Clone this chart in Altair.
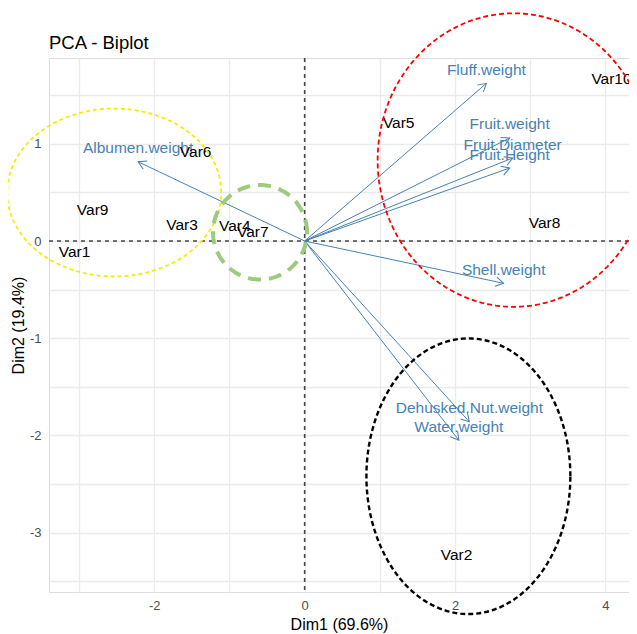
import numpy as np
import pandas as pd
import altair as alt

# ---- data ----
title_text = ["PCA - Biplot"]

ind_names = ["Var1", "Var2", "Var3", "Var4", "Var5", "Var6", "Var7", "Var8", "Var9", "Var10"]
ind_dim1 = [-3.06, 2.02, -1.63, -0.93, 1.25, -1.45, -0.69, 3.19, -2.82, 4.08]
ind_dim2 = [-0.11, -3.23, 0.165, 0.157, 1.21, 0.92, 0.09, 0.19, 0.32, 1.667]

var_names = ["Albumen.weight", "Fluff.weight", "Fruit.weight", "Fruit.Diameter",
             "Fruit.Height", "Shell.weight", "Dehusked.Nut.weight", "Water.weight"]
var_dim1 = [-2.216, 2.416, 2.726, 2.766, 2.726, 2.646, 2.19, 2.05]
var_dim2 = [0.816, 1.622, 1.06, 0.854, 0.751, -0.435, -1.86, -2.05]

# annotation ellipses: centre (dim1, dim2), radii (dim1, dim2)
ell_names = ["yellow", "green", "red", "black"]
ell_cx = [-2.533, -0.594, 2.78, 2.177]
ell_cy = [0.499, 0.09, 0.833, -2.42]
ell_rx = [1.423, 0.625, 1.81, 1.356]
ell_ry = [0.864, 0.486, 1.51, 1.418]
ell_colors = ["#F2EE00", "#9DCB7D", "#FF0000", "#000000"]
ell_widths = [1.8, 4.0, 1.8, 2.4]
ell_dashes = [[4, 3], [13, 8], [5, 3], [5, 3]]

x_ticks = [-3, -2, -1, 0, 1, 2, 3, 4]
y_ticks = [-3.5, -3, -2.5, -2, -1.5, -1, -0.5, 0, 0.5, 1, 1.5]

# ---- layout ----
W, H = 580, 534
KX = 75.2
XDOM = [-3.40, -3.40 + W / KX]
YDOM = [-3.611, 1.883]
FONT = "Liberation Sans"
kx = W / (XDOM[1] - XDOM[0])
ky = H / (YDOM[1] - YDOM[0])

xs = alt.Scale(domain=XDOM, nice=False, zero=False)
ys = alt.Scale(domain=YDOM, nice=False, zero=False)

xaxis = alt.Axis(
    values=x_ticks, grid=True, ticks=False, domain=False,
    gridColor="#EBEBEB", gridWidth=1.3,
    labelExpr="datum.value % 2 === 0 ? '' + datum.value : ''",
    labelFont=FONT, labelFontSize=13, labelColor="#4D4D4D",
    labelBaseline="alphabetic", labelPadding=17,
    title="Dim1 (69.6%)", titleFont=FONT, titleFontSize=16,
    titleFontWeight="normal", titleColor="black",
    titleBaseline="alphabetic", titleY=37,
)
yaxis = alt.Axis(
    values=y_ticks, grid=True, ticks=False, domain=False,
    gridColor="#EBEBEB", gridWidth=1.3,
    labelExpr="datum.value % 1 === 0 ? '' + datum.value : ''",
    labelFont=FONT, labelFontSize=13, labelColor="#4D4D4D",
    labelPadding=8,
    title="Dim2 (19.4%)", titleFont=FONT, titleFontSize=16,
    titleFontWeight="normal", titleColor="black",
    titleAngle=270, titleBaseline="middle", titleX=-31, titleY=H / 2,
)

ind_df = pd.DataFrame({"name": ind_names, "x": ind_dim1, "y": ind_dim2})
var_df = pd.DataFrame({"name": var_names, "x": var_dim1, "y": var_dim2})
var_df["x0"] = 0.0
var_df["y0"] = 0.0
ang = np.degrees(np.arctan2(var_df["x"] * kx, var_df["y"] * ky))
var_df["angle"] = np.mod(ang, 360)

base_grid = alt.Chart(pd.DataFrame({"x": [0.0], "y": [0.0]})).mark_point(opacity=0).encode(
    x=alt.X("x:Q", scale=xs, axis=xaxis),
    y=alt.Y("y:Q", scale=ys, axis=yaxis),
)

title_mark = alt.Chart(pd.DataFrame({"t": title_text})).mark_text(
    font=FONT, fontSize=18.5, color="black", align="left", baseline="alphabetic"
).encode(x=alt.value(0), y=alt.value(-9), text="t:N")

zero_v = alt.Chart(pd.DataFrame({"x": [0.0]})).mark_rule(
    color="#444444", strokeWidth=1.6, strokeDash=[4, 4]
).encode(x=alt.X("x:Q", scale=xs))
zero_h = alt.Chart(pd.DataFrame({"y": [0.0]})).mark_rule(
    color="#444444", strokeWidth=1.6, strokeDash=[4, 4]
).encode(y=alt.Y("y:Q", scale=ys))

arrows = alt.Chart(var_df).mark_rule(color="steelblue", strokeWidth=1).encode(
    x=alt.X("x0:Q", scale=xs), y=alt.Y("y0:Q", scale=ys),
    x2="x:Q", y2="y:Q",
)
heads = alt.Chart(var_df).mark_point(
    shape="M -0.577 1 L 0 0 L 0.577 1", filled=False, color="steelblue",
    strokeWidth=1, size=256, opacity=1,
).encode(
    x=alt.X("x:Q", scale=xs), y=alt.Y("y:Q", scale=ys),
    angle=alt.Angle("angle:Q", scale=None),
)
var_text = alt.Chart(var_df).mark_text(
    font=FONT, fontSize=15.5, color="steelblue", dy=-13.5, baseline="middle"
).encode(x=alt.X("x:Q", scale=xs), y=alt.Y("y:Q", scale=ys), text="name:N")

ind_text = alt.Chart(ind_df).mark_text(
    font=FONT, fontSize=15.5, color="black", baseline="middle"
).encode(x=alt.X("x:Q", scale=xs), y=alt.Y("y:Q", scale=ys), text="name:N")

t = np.linspace(0, 2 * np.pi, 241)
ell_layers = []
for i, nm in enumerate(ell_names):
    edf = pd.DataFrame({
        "x": ell_cx[i] + ell_rx[i] * np.cos(t),
        "y": ell_cy[i] + ell_ry[i] * np.sin(t),
        "o": np.arange(len(t)),
    })
    ell_layers.append(
        alt.Chart(edf).mark_line(
            color=ell_colors[i], strokeWidth=ell_widths[i], strokeDash=ell_dashes[i]
        ).encode(
            x=alt.X("x:Q", scale=xs), y=alt.Y("y:Q", scale=ys), order="o:Q"
        )
    )

chart = alt.layer(
    base_grid, zero_v, zero_h, arrows, heads, var_text, ind_text, *ell_layers, title_mark
).properties(
    width=W, height=H,
    autosize=alt.AutoSizeParams(type="none"),
    padding={"left": 41, "top": 50, "right": 0, "bottom": 42},
).configure_view(stroke=None).configure(background="white")

chart.save("out.html", embed_options={"renderer": "svg", "actions": False})
